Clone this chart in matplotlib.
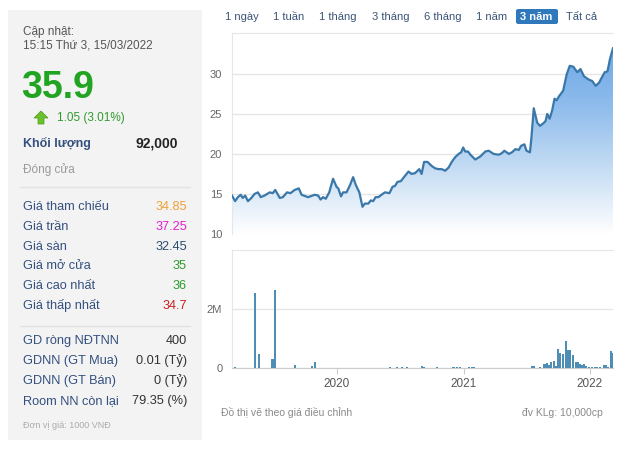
import numpy as np
import matplotlib
matplotlib.use('Agg')
import matplotlib.pyplot as plt
import matplotlib.dates as mdates
from matplotlib.patches import Rectangle, FancyBboxPatch, Polygon

plt.rcParams['font.family'] = ['Liberation Sans', 'DejaVu Sans']

# --- data ---
price_dates = ["2019-03-04", "2019-03-13", "2019-03-21", "2019-03-29", "2019-04-04", "2019-04-11",
               "2019-04-19", "2019-04-29", "2019-05-08", "2019-05-18", "2019-05-26", "2019-06-06",
               "2019-06-21", "2019-06-30", "2019-07-07", "2019-07-20", "2019-07-29", "2019-08-10",
               "2019-08-20", "2019-09-01", "2019-09-13", "2019-09-21", "2019-10-10", "2019-10-29",
               "2019-11-08", "2019-11-15", "2019-11-22", "2019-11-30", "2019-12-10", "2019-12-21",
               "2019-12-31", "2020-01-05", "2020-01-13", "2020-01-19", "2020-01-29", "2020-02-08",
               "2020-02-17", "2020-02-25", "2020-03-06", "2020-03-15", "2020-03-22", "2020-04-01",
               "2020-04-08", "2020-04-15", "2020-04-22", "2020-04-30", "2020-05-09", "2020-05-19",
               "2020-06-01", "2020-06-10", "2020-06-17", "2020-06-24", "2020-07-04", "2020-07-13",
               "2020-07-26", "2020-08-04", "2020-08-14", "2020-08-26", "2020-09-02", "2020-09-09",
               "2020-09-19", "2020-10-01", "2020-10-11", "2020-10-21", "2020-10-30", "2020-11-09",
               "2020-11-19", "2020-11-28", "2020-12-08", "2020-12-18", "2020-12-25", "2020-12-31",
               "2021-01-06", "2021-01-14", "2021-01-21", "2021-02-04", "2021-02-19", "2021-03-05",
               "2021-03-15", "2021-03-29", "2021-04-13", "2021-04-22", "2021-04-29", "2021-05-12",
               "2021-05-21", "2021-05-31", "2021-06-10", "2021-06-16", "2021-06-26", "2021-07-02",
               "2021-07-12", "2021-07-16", "2021-07-23", "2021-08-02", "2021-08-10", "2021-08-19",
               "2021-08-26", "2021-08-31", "2021-09-07", "2021-09-14", "2021-09-21", "2021-09-27",
               "2021-10-04", "2021-10-16", "2021-10-26", "2021-11-04", "2021-11-14", "2021-11-26",
               "2021-12-05", "2021-12-15", "2021-12-28", "2022-01-08", "2022-01-18", "2022-01-28",
               "2022-02-04", "2022-02-13", "2022-02-21", "2022-02-28", "2022-03-09"]
price = [14.8, 14.1, 14.6, 14.9, 14.5, 14.8, 14.1, 14.5, 15.0, 15.2, 14.6, 14.8,
         15.2, 15.1, 15.5, 14.5, 14.6, 15.2, 15.1, 15.5, 15.7, 14.9, 14.6, 14.9,
         14.8, 14.3, 14.6, 14.4, 15.2, 16.9, 15.9, 15.7, 14.7, 15.2, 15.2, 16.1,
         17.1, 16.1, 15.2, 13.4, 13.8, 13.8, 14.2, 14.1, 14.6, 14.6, 14.9, 15.2,
         15.1, 15.9, 16.0, 16.5, 16.6, 17.1, 17.8, 17.5, 17.6, 18.1, 17.5, 19.0,
         19.0, 18.5, 18.2, 18.1, 18.1, 17.9, 18.3, 19.0, 19.6, 20.0, 20.2, 20.8,
         20.3, 20.3, 19.9, 19.3, 19.7, 20.3, 20.4, 20.0, 19.9, 20.1, 20.4, 20.0,
         20.2, 20.6, 20.5, 21.0, 21.2, 20.4, 20.2, 21.9, 25.7, 23.9, 23.5, 23.8,
         24.1, 25.0, 24.4, 25.4, 26.9, 26.7, 27.2, 27.9, 29.9, 31.0, 30.9, 30.2,
         30.6, 29.7, 29.3, 29.1, 28.5, 28.9, 29.5, 30.2, 30.3, 31.8, 33.2]

vol_dates = ["2019-03-13", "2019-05-10", "2019-05-20", "2019-06-29", "2019-07-07", "2019-09-01",
             "2019-10-20", "2019-10-29", "2020-06-03", "2020-06-22", "2020-07-06", "2020-07-23",
             "2020-09-02", "2020-09-09", "2020-10-16", "2020-12-03", "2020-12-13", "2020-12-21",
             "2021-01-16", "2021-01-25", "2021-02-01", "2021-07-18", "2021-07-23", "2021-08-11",
             "2021-08-23", "2021-08-29", "2021-09-05", "2021-09-12", "2021-09-19", "2021-09-26",
             "2021-10-02", "2021-10-08", "2021-10-15", "2021-10-25", "2021-10-31", "2021-11-06",
             "2021-11-14", "2021-11-21", "2021-11-28", "2021-12-03", "2021-12-10", "2021-12-15",
             "2021-12-20", "2021-12-30", "2022-01-08", "2022-01-15", "2022-01-23", "2022-01-30",
             "2022-02-11", "2022-02-16", "2022-02-23", "2022-03-02", "2022-03-08"]
volume = [0.02, 2.53, 0.49, 0.30, 2.66, 0.09, 0.06, 0.19, 0.02, 0.02, 0.02, 0.02,
          0.06, 0.03, 0.04, 0.03, 0.03, 0.03, 0.03, 0.04, 0.04, 0.08, 0.06, 0.02,
          0.15, 0.17, 0.10, 0.22, 0.24, 0.08, 0.65, 0.52, 0.47, 0.90, 0.60, 0.62,
          0.43, 0.22, 0.20, 0.14, 0.10, 0.12, 0.06, 0.05, 0.04, 0.03, 0.03, 0.04,
          0.10, 0.11, 0.04, 0.58, 0.50]  # millions

range_buttons = ["1 ngày", "1 tuần", "1 tháng", "3 tháng", "6 tháng", "1 năm", "3 năm", "Tất cả"]
active_button = "3 năm"

price_rows = ["Giá tham chiếu", "Giá trần", "Giá sàn", "Giá mở cửa", "Giá cao nhất", "Giá thấp nhất"]
price_vals = ["34.85", "37.25", "32.45", "35", "36", "34.7"]
price_cols = ["#f0a038", "#e020d0", "#2b4d6e", "#2e9a2e", "#2e9a2e", "#cc2020"]

foreign_rows = ["GD ròng NĐTNN", "GDNN (GT Mua)", "GDNN (GT Bán)", "Room NN còn lại"]
foreign_vals = ["400", "0.01 (Tỷ)", "0 (Tỷ)", "79.35 (%)"]

W, H = 630, 455
fig = plt.figure(figsize=(6.3, 4.55), dpi=100)
fig.patch.set_facecolor('white')


def fx(x):
    return x / W


def fy(y):
    return 1 - y / H


def txt(x, y, s, **kw):
    kw.setdefault('va', 'center')
    fig.text(fx(x), fy(y), s, **kw)


# --- left info panel ---
fig.patches.append(Rectangle((fx(8), fy(440)), fx(194), 430 / H, transform=fig.transFigure,
                             facecolor='#f3f3f3', edgecolor='none', zorder=0))
for yy in [187, 326]:
    fig.lines.append(plt.Line2D([fx(20), fx(190)], [fy(yy), fy(yy)], transform=fig.transFigure,
                                color='#e2e2e2', lw=1))

label_col = '#34507f'
txt(23, 32, "Cập nhật:", fontsize=8.5, color='#555555')
txt(23, 45, "15:15 Thứ 3, 15/03/2022", fontsize=8.5, color='#555555')
txt(21, 88, "35.9", fontsize=27, fontweight='bold', color='#21a421')
fig.patches.append(Polygon([[fx(34), fy(118)], [fx(41), fy(111)], [fx(48), fy(118)],
                            [fx(44), fy(118)], [fx(44), fy(124)], [fx(38), fy(124)],
                            [fx(38), fy(118)]], closed=True, transform=fig.transFigure,
                           facecolor='#6cc12a', edgecolor='#4a9a1a', lw=0.5))
txt(57, 118, "1.05 (3.01%)", fontsize=8.5, color='#2e9a2e')
txt(23, 143, "Khối lượng", fontsize=9, fontweight='bold', color=label_col)
txt(178, 143, "92,000", fontsize=10, fontweight='bold', color='#222222', ha='right')
txt(23, 170, "Đóng cửa", fontsize=8.5, color='#9a9a9a')

for i, (lab, val, col) in enumerate(zip(price_rows, price_vals, price_cols)):
    y = 207 + i * 19.8
    txt(23, y, lab, fontsize=9.2, color=label_col)
    txt(187, y, val, fontsize=9.2, color=col, ha='right')

for i, (lab, val) in enumerate(zip(foreign_rows, foreign_vals)):
    y = 341 + i * 20
    txt(23, y, lab, fontsize=9.2, color=label_col)
    txt(187, y, val, fontsize=9.2, color='#333333', ha='right')

txt(23, 426, "Đơn vị giá: 1000 VNĐ", fontsize=6.5, color='#ababab')

# --- range buttons ---
btn_x = [242, 289, 338, 391, 443, 492, 536, 582]
for b, x in zip(range_buttons, btn_x):
    if b == active_button:
        fig.patches.append(FancyBboxPatch((fx(516), fy(24)), fx(42), 15 / H,
                                          boxstyle='round,pad=0,rounding_size=0.004',
                                          transform=fig.transFigure, facecolor='#2f78bc',
                                          edgecolor='none'))
        txt(x, 16.5, b, fontsize=8, color='white', ha='center', fontweight='bold')
    else:
        txt(x, 16.5, b, fontsize=8, color='#3b5478', ha='center')

# --- price chart ---
d = mdates.datestr2num(price_dates)
p = np.array(price)
ax = fig.add_axes([fx(232), fy(234), 381 / W, 201 / H])
ax.set_xlim(d[0], d[-1])
ax.set_ylim(10, 35.1)
line, = ax.plot(d, p, color='#3a78aa', lw=1.6, zorder=3)
fill = ax.fill_between(d, p, 10, color='none')
grad = np.linspace(0, 1, 256).reshape(-1, 1)
cmap = matplotlib.colors.LinearSegmentedColormap.from_list(
    'g', ['#ffffff', '#c6ddf4', '#8ebcec', '#6aa6e6'])
im = ax.imshow(grad, cmap=cmap, aspect='auto', origin='lower',
               extent=[d[0], d[-1], 10, 34], zorder=2)
im.set_clip_path(fill.get_paths()[0], transform=ax.transData)
ax.set_ylim(10, 35.1)
ax.set_yticks([10, 15, 20, 25, 30])
ax.grid(axis='y', color='#e6e6e6', lw=1)
ax.set_axisbelow(True)
ax.tick_params(axis='y', length=0, pad=7, labelsize=8, labelcolor='#666666')
ax.tick_params(axis='x', length=0, labelbottom=False)
for s in ['right', 'bottom']:
    ax.spines[s].set_visible(False)
for s in ['left', 'top']:
    ax.spines[s].set_color('#e6e6e6')

# --- volume chart ---
vd = mdates.datestr2num(vol_dates)
vax = fig.add_axes([fx(232), fy(368), 381 / W, 118 / H])
vax.bar(vd, np.array(volume) * 1e6, width=6, color='#4e8db4', zorder=3)
vax.set_xlim(d[0], d[-1])
vax.set_ylim(0, 4e6)
vax.set_yticks([0, 2e6])
vax.set_yticklabels(["0", "2M"])
vax.grid(axis='y', color='#e6e6e6', lw=1)
vax.set_axisbelow(True)
vax.tick_params(axis='y', length=0, pad=7, labelsize=8, labelcolor='#666666')
vax.xaxis.set_major_locator(mdates.YearLocator())
vax.xaxis.set_major_formatter(mdates.DateFormatter('%Y'))
vax.tick_params(axis='x', length=4, color='#cccccc', labelsize=8.5, labelcolor='#555555', pad=3)
vax.spines['right'].set_visible(False)
for s in ['left', 'top']:
    vax.spines[s].set_color('#e6e6e6')
vax.spines['bottom'].set_color('#cccccc')

txt(221, 413, "Đồ thị vẽ theo giá điều chỉnh", fontsize=7.5, color='#8a8a8a')
txt(603, 413, "đv KLg: 10,000cp", fontsize=7.5, color='#8a8a8a', ha='right')

fig.savefig("out.png", dpi=100)
